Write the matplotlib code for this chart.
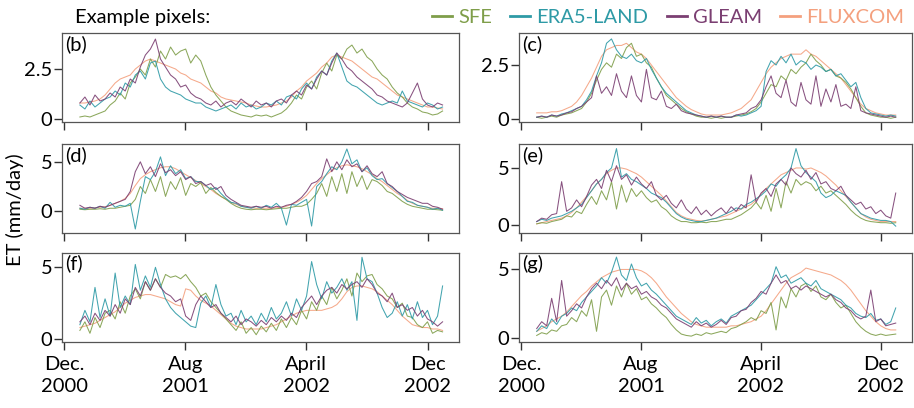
import matplotlib
matplotlib.use("Agg")
import matplotlib.pyplot as plt
import numpy as np
import pandas as pd

plt.rcParams['font.family'] = ['Lato', 'DejaVu Sans']

# 73 samples, ~10 days apart, Jan 2001 - Dec 2002
dates = pd.date_range('2001-01-01', '2002-12-31', periods=73)

names = ['SFE', 'ERA5-LAND', 'GLEAM', 'FLUXCOM']
colors = {'SFE': '#7f9e4a', 'ERA5-LAND': '#2e9aa6', 'GLEAM': '#7b3f72', 'FLUXCOM': '#f4a07e'}

# panel (b)
sfe_b = [0.1, 0.15, 0.1, 0.2, 0.3, 0.4, 0.7, 0.9, 1.3, 1.0, 1.8, 2.1,
         2.5, 2.2, 3.0, 2.6, 3.4, 3.0, 3.6, 3.2, 3.4, 3.5, 2.8, 3.2,
         2.9, 2.2, 1.6, 1.2, 0.9, 0.6, 0.4, 0.3, 0.2, 0.15, 0.1, 0.2,
         0.15, 0.2, 0.1, 0.2, 0.3, 0.5, 0.8, 1.2, 1.0, 1.6, 1.9, 1.5,
         2.3, 2.8, 2.4, 3.2, 3.0, 3.5, 3.7, 3.3, 3.5, 3.1, 2.9, 2.5,
         2.2, 2.0, 1.6, 1.3, 1.1, 0.8, 0.6, 0.5, 0.35, 0.3, 0.2, 0.25, 0.4]
era_b = [0.7, 0.5, 0.9, 0.6, 0.8, 1.0, 1.1, 1.4, 1.2, 1.8, 1.6, 2.2,
         2.4, 2.0, 2.8, 2.9, 2.0, 1.6, 1.4, 1.3, 1.2, 1.0, 0.9, 0.8,
         0.8, 0.6, 0.5, 0.4, 0.5, 0.6, 0.7, 0.5, 0.8, 0.6, 0.7, 0.5,
         0.6, 0.8, 0.7, 0.9, 0.7, 1.1, 1.2, 1.0, 1.5, 1.8, 1.5, 2.1,
         2.4, 2.2, 2.9, 3.3, 2.6, 1.9, 1.7, 1.6, 1.4, 1.2, 1.0, 0.8,
         0.7, 0.8, 0.9, 0.8, 1.4, 0.9, 0.8, 0.7, 0.6, 0.8, 0.7, 0.5, 0.6]
gleam_b = [0.8, 1.1, 0.7, 1.2, 0.9, 1.0, 1.3, 1.1, 1.6, 1.4, 2.0, 1.8,
           2.6, 3.2, 3.5, 4.0, 3.0, 2.6, 2.2, 2.0, 1.6, 1.7, 1.3, 1.1,
           1.0, 0.8, 0.7, 0.9, 0.6, 0.8, 0.9, 0.7, 1.0, 0.8, 0.6, 0.9,
           0.7, 0.8, 0.6, 0.9, 1.0, 0.8, 1.2, 1.4, 1.2, 1.7, 1.5, 2.0,
           2.4, 2.2, 2.8, 3.3, 3.0, 2.6, 2.4, 2.1, 1.9, 1.7, 1.5, 1.2,
           1.1, 0.9, 0.8, 0.7, 0.6, 0.8, 1.3, 1.8, 1.0, 0.7, 0.6, 0.8, 0.7]
flux_b = [0.8, 0.8, 0.85, 0.9, 1.0, 1.2, 1.5, 1.8, 2.0, 2.1, 2.2, 2.5,
          2.7, 2.9, 3.0, 2.9, 2.8, 2.7, 2.6, 2.5, 2.3, 2.2, 2.0, 1.9,
          1.8, 1.6, 1.4, 1.3, 1.1, 1.0, 0.95, 0.9, 0.85, 0.8, 0.7, 0.65,
          0.6, 0.6, 0.65, 0.7, 0.8, 0.9, 1.1, 1.4, 1.6, 1.9, 2.1, 2.3,
          2.6, 2.8, 3.1, 3.2, 3.1, 3.0, 2.9, 2.7, 2.5, 2.3, 2.1, 2.0,
          1.8, 1.6, 1.4, 1.2, 1.1, 1.0, 0.9, 0.8, 0.7, 0.6, 0.6, 0.55, 0.5]

# panel (c)
sfe_c = [0.1, 0.05, 0.1, 0.15, 0.1, 0.2, 0.25, 0.3, 0.4, 0.5, 0.8, 1.2,
         1.8, 2.3, 2.6, 2.4, 3.0, 2.8, 3.3, 3.5, 2.9, 3.0, 2.6, 2.4,
         1.9, 1.5, 1.1, 0.9, 0.7, 0.5, 0.35, 0.25, 0.15, 0.1, 0.1, 0.05,
         0.1, 0.05, 0.1, 0.1, 0.15, 0.2, 0.25, 0.35, 0.5, 0.8, 1.2, 1.6,
         1.5, 2.0, 1.8, 2.3, 2.1, 2.4, 2.6, 3.0, 2.7, 2.5, 2.2, 2.3,
         2.0, 1.9, 1.7, 1.4, 1.0, 0.6, 0.3, 0.2, 0.15, 0.1, 0.1, 0.05, 0.1]
era_c = [0.1, 0.15, 0.1, 0.2, 0.15, 0.25, 0.3, 0.4, 0.5, 0.6, 0.9, 1.3,
         2.0, 2.6, 3.5, 3.7, 3.2, 2.9, 2.8, 3.0, 2.7, 2.6, 2.8, 2.3,
         1.9, 1.5, 1.2, 1.0, 0.8, 0.6, 0.4, 0.3, 0.2, 0.15, 0.1, 0.15,
         0.1, 0.15, 0.1, 0.1, 0.2, 0.15, 0.2, 0.3, 0.4, 0.6, 2.2, 2.7,
         2.5, 2.9, 2.6, 3.0, 2.5, 2.7, 2.6, 2.3, 2.5, 2.4, 2.2, 2.3,
         2.0, 2.1, 1.8, 1.5, 1.7, 1.0, 0.5, 0.3, 0.25, 0.2, 0.15, 0.2, 0.15]
gleam_c = [0.1, 0.15, 0.1, 0.2, 0.15, 0.2, 0.3, 0.35, 0.5, 0.6, 0.8, 1.0,
           2.0, 1.2, 1.5, 1.1, 2.1, 1.3, 1.0, 2.0, 1.1, 0.8, 2.3, 1.0,
           0.9, 1.3, 0.6, 0.5, 0.7, 0.4, 0.3, 0.25, 0.2, 0.15, 0.1, 0.15,
           0.1, 0.15, 0.1, 0.1, 0.2, 0.25, 0.3, 0.5, 0.6, 0.9, 1.5, 2.0,
           1.2, 1.0, 1.8, 0.8, 0.6, 1.7, 0.9, 0.7, 2.0, 0.6, 1.4, 0.8,
           1.6, 0.6, 0.7, 0.5, 1.5, 0.4, 0.3, 0.25, 0.2, 0.15, 0.1, 0.15, 0.1]
flux_c = [0.3, 0.3, 0.3, 0.35, 0.35, 0.4, 0.5, 0.6, 0.8, 1.1, 1.5, 1.9,
          2.4, 2.9, 3.2, 3.3, 3.4, 3.4, 3.5, 3.3, 3.1, 3.0, 2.8, 2.5,
          2.2, 1.9, 1.6, 1.3, 1.0, 0.8, 0.6, 0.45, 0.35, 0.25, 0.2, 0.2,
          0.2, 0.2, 0.25, 0.3, 0.4, 0.5, 0.7, 0.9, 1.3, 1.7, 2.1, 2.4,
          2.6, 2.8, 2.9, 3.0, 3.0, 3.0, 3.2, 3.0, 2.9, 2.7, 2.5, 2.3,
          2.1, 1.9, 1.6, 1.3, 1.0, 0.7, 0.5, 0.4, 0.3, 0.25, 0.2, 0.2, 0.2]

# panel (d)
sfe_d = [0.2, 0.15, 0.2, 0.2, 0.25, 0.2, 0.3, 0.3, 0.4, 0.5, 0.6, 1.2,
         2.5, 1.8, 3.2, 2.0, 3.5, 1.5, 3.0, 2.2, 3.4, 1.6, 2.8, 2.5,
         2.9, 1.8, 2.4, 1.9, 1.5, 1.2, 0.8, 0.5, 0.3, 0.2, 0.15, 0.2,
         0.2, 0.15, 0.2, 0.25, 0.3, 0.3, 0.4, 0.5, 0.5, 0.7, 1.2, 1.8,
         2.8, 1.5, 3.5, 2.0, 3.8, 1.8, 4.0, 2.5, 3.6, 2.2, 3.2, 3.0,
         2.6, 2.0, 1.8, 1.4, 1.0, 0.7, 0.5, 0.4, 0.3, 0.2, 0.2, 0.15, 0.1]
era_d = [0.3, 0.2, 0.4, 0.3, 0.5, 0.3, 0.9, 0.4, 0.6, 0.5, 0.8, -1.8,
         1.0, 3.5, 3.2, 4.0, 5.5, 3.6, 4.6, 3.8, 4.2, 3.3, 3.5, 3.0,
         3.0, 2.6, 2.2, 2.4, 1.8, 1.3, 0.9, 0.8, 0.5, 0.4, 0.3, 0.5,
         0.3, 0.6, 0.4, 0.8, 0.3, -1.4, 0.7, 0.6, 0.9, 1.2, -1.5, 2.5,
         3.0, 3.8, 4.5, 4.2, 5.0, 6.3, 4.8, 5.2, 4.0, 4.4, 3.6, 3.2,
         3.3, 2.8, 2.4, 2.0, 1.5, 1.0, 0.9, 0.6, 0.5, 0.4, 0.2, 0.3, 0.1]
gleam_d = [0.6, 0.3, 0.4, 0.3, 0.5, 0.4, 0.6, 0.8, 1.0, 1.2, 2.0, 4.0,
           5.0, 3.8, 4.5, 3.5, 4.8, 3.9, 4.2, 3.6, 4.0, 3.2, 3.5, 2.8,
           3.0, 2.6, 2.8, 2.2, 2.5, 1.6, 1.2, 0.9, 0.6, 0.5, 0.4, 0.5,
           0.4, 0.5, 0.3, 0.5, 0.4, 0.6, 0.7, 1.0, 1.4, 2.0, 2.8, 3.0,
           3.5, 5.3, 4.0, 5.0, 4.2, 5.2, 4.5, 4.8, 4.0, 4.6, 3.8, 3.5,
           4.0, 2.8, 2.5, 2.0, 1.7, 1.4, 1.2, 1.0, 0.8, 0.8, 0.5, 0.4, 0.2]
flux_d = [0.3, 0.3, 0.3, 0.35, 0.4, 0.45, 0.6, 0.8, 1.0, 1.3, 1.8, 2.6,
          3.3, 3.7, 4.0, 4.2, 4.4, 4.5, 4.5, 4.3, 4.0, 3.7, 3.4, 3.1,
          2.8, 2.5, 2.2, 1.8, 1.5, 1.2, 0.9, 0.7, 0.5, 0.4, 0.35, 0.3,
          0.3, 0.3, 0.3, 0.35, 0.4, 0.5, 0.7, 0.9, 1.2, 1.6, 2.2, 2.8,
          3.3, 3.7, 4.1, 4.4, 4.6, 4.7, 4.6, 4.5, 4.3, 4.0, 3.7, 3.3,
          3.0, 2.6, 2.2, 1.8, 1.5, 1.1, 0.8, 0.6, 0.5, 0.4, 0.3, 0.3, 0.25]

# panel (e)
sfe_e = [0.1, 0.2, 0.15, 0.3, 0.4, 0.5, 0.8, 0.7, 1.2, 1.0, 1.8, 2.5,
         1.8, 3.0, 2.2, 3.8, 1.4, 3.5, 2.0, 3.2, 2.5, 3.0, 2.4, 2.0,
         2.2, 1.6, 1.3, 0.8, 0.5, 0.3, 0.3, 0.2, 0.2, 0.25, 0.2, 0.3,
         0.3, 0.4, 0.5, 0.5, 0.7, 0.9, 1.2, 1.5, 2.0, 1.4, 2.6, 1.2,
         3.2, 1.5, 3.8, 2.8, 4.0, 3.5, 3.8, 3.6, 3.0, 3.4, 2.8, 3.0,
         2.6, 2.2, 1.8, 1.3, 0.9, 0.6, 0.4, 0.3, 0.25, 0.2, 0.2, 0.15, 0.2]
era_e = [0.3, 0.5, 0.4, 0.6, 0.7, 0.8, 1.0, 1.2, 1.5, 1.8, 2.4, 3.0,
         3.6, 4.0, 4.6, 5.0, 6.7, 4.2, 4.5, 4.0, 3.8, 3.5, 3.2, 2.8,
         2.6, 2.4, 2.0, 1.5, 1.0, 0.7, 0.5, 0.4, 0.3, 0.3, 0.4, 0.5,
         0.6, 0.8, 1.0, 1.2, 1.5, 1.4, 1.8, 2.0, 2.3, 2.6, 3.0, 3.6,
         3.4, 4.0, 4.4, 5.0, 6.7, 5.2, 4.6, 4.2, 3.8, 2.8, 2.4, 2.6,
         3.0, 2.8, 2.6, 2.0, 1.5, 1.0, 0.8, 0.6, 0.5, 0.4, 0.4, 0.3, -0.1]
gleam_e = [0.3, 0.6, 0.5, 0.9, 1.0, 3.8, 1.2, 1.5, 2.2, 1.6, 2.5, 3.5,
           4.0, 3.2, 4.8, 3.8, 5.2, 4.0, 4.4, 3.5, 4.2, 3.6, 3.2, 3.8,
           2.6, 2.2, 2.6, 1.9, 1.5, 2.2, 1.4, 1.0, 1.6, 0.9, 1.3, 0.8,
           1.2, 1.5, 1.0, 1.6, 1.2, 1.8, 1.5, 4.4, 2.0, 2.8, 3.2, 2.5,
           3.6, 4.0, 3.5, 5.0, 4.5, 4.2, 4.8, 4.0, 4.6, 3.6, 3.8, 3.2,
           3.0, 3.4, 2.6, 2.2, 1.8, 2.0, 1.4, 1.6, 1.0, 1.3, 0.8, 0.6, 2.8]
flux_e = [0.1, 0.2, 0.3, 0.4, 0.5, 0.6, 0.8, 1.1, 1.5, 2.0, 2.5, 3.0,
          3.6, 4.0, 4.5, 4.8, 5.0, 5.0, 4.9, 4.7, 4.5, 4.2, 3.8, 3.4,
          3.0, 2.6, 2.1, 1.6, 1.1, 0.8, 0.6, 0.5, 0.4, 0.35, 0.4, 0.5,
          0.6, 0.7, 0.8, 1.0, 1.2, 1.4, 1.6, 1.8, 2.2, 2.7, 3.2, 3.6,
          4.0, 4.4, 4.6, 4.8, 5.0, 5.0, 4.9, 5.0, 4.8, 4.6, 4.3, 3.9,
          3.5, 3.0, 2.5, 2.0, 1.5, 1.0, 0.7, 0.5, 0.4, 0.3, 0.3, 0.3, 0.3]

# panel (f)
sfe_f = [0.6, 1.2, 0.4, 1.5, 0.8, 1.8, 2.0, 1.4, 2.6, 1.8, 3.0, 3.5,
         2.8, 4.0, 3.4, 4.2, 3.6, 4.5, 4.3, 4.4, 4.2, 4.5, 4.0, 3.6,
         3.0, 3.2, 2.6, 2.2, 1.8, 1.4, 1.0, 0.6, 1.2, 0.4, 0.8, 0.3,
         0.9, 0.5, 1.1, 0.6, 1.4, 0.8, 1.5, 1.0, 2.0, 1.4, 2.6, 2.0,
         3.0, 2.4, 3.6, 2.8, 3.4, 4.2, 3.0, 4.6, 4.0, 4.4, 4.5, 3.8,
         3.5, 3.0, 2.8, 2.2, 2.5, 1.6, 1.5, 1.0, 0.8, 1.2, 0.4, 0.6, 0.5]
era_f = [1.0, 2.0, 1.2, 3.6, 1.5, 2.8, 1.6, 4.6, 2.2, 3.0, 2.4, 5.2,
         3.4, 4.4, 3.6, 5.0, 3.8, 2.8, 2.2, 1.8, 1.5, 1.2, 0.9, 0.8,
         2.5, 3.0, 2.2, 3.8, 2.4, 1.6, 1.8, 1.0, 2.0, 1.2, 1.6, 1.0,
         1.8, 1.2, 2.2, 1.4, 1.8, 2.6, 1.6, 2.8, 2.0, 3.0, 5.4, 3.8,
         2.8, 4.0, 3.2, 3.6, 4.2, 3.4, 4.0, 1.3, 5.7, 4.2, 4.0, 3.2,
         2.2, 1.5, 1.8, 2.6, 1.6, 2.4, 1.4, 2.6, 1.5, 2.0, 1.0, 1.6, 3.7]
gleam_f = [1.2, 1.6, 1.0, 1.8, 1.3, 2.0, 1.6, 2.4, 1.8, 2.8, 2.4, 3.6,
           3.0, 4.0, 3.4, 4.2, 3.6, 3.2, 3.0, 2.6, 2.8, 1.6, 1.3, 2.4,
           3.0, 2.6, 2.2, 2.4, 1.8, 1.5, 1.2, 1.6, 1.0, 1.4, 1.2, 0.9,
           1.3, 1.0, 1.5, 1.2, 1.6, 1.3, 1.8, 1.5, 2.2, 2.6, 3.0, 2.4,
           3.0, 3.4, 3.6, 3.2, 3.8, 3.5, 3.8, 4.0, 3.6, 4.2, 3.8, 3.2,
           3.0, 2.6, 3.2, 2.2, 2.4, 2.0, 2.2, 1.6, 2.0, 1.4, 1.2, 0.9, 1.2]
flux_f = [0.8, 0.9, 1.0, 1.1, 1.3, 1.5, 1.7, 1.9, 2.2, 2.5, 2.7, 2.9,
          3.0, 3.1, 3.1, 3.0, 2.9, 2.8, 2.6, 2.4, 2.3, 3.5, 3.4, 3.0,
          2.7, 2.5, 2.3, 2.0, 1.7, 1.4, 1.1, 0.9, 0.8, 0.7, 0.7, 0.7,
          0.7, 0.8, 0.9, 1.0, 1.2, 1.4, 1.6, 1.8, 1.9, 2.0, 2.0, 2.0,
          2.0, 2.1, 2.2, 2.4, 2.8, 3.3, 3.6, 3.7, 3.7, 3.6, 3.5, 3.3,
          3.0, 2.7, 2.4, 2.0, 1.6, 1.3, 1.0, 0.9, 0.8, 0.8, 0.7, 0.7, 0.6]

# panel (g)
sfe_g = [0.2, 0.4, 0.3, 0.6, 0.5, 0.9, 1.0, 1.5, 1.2, 2.0, 1.6, 2.8,
         0.5, 3.0, 3.5, 2.4, 3.8, 3.0, 4.0, 3.2, 3.6, 2.8, 3.0, 2.5,
         2.2, 1.8, 1.5, 1.0, 0.6, 0.3, 0.2, 0.15, 0.3, 0.2, 0.4, 0.3,
         0.4, 0.5, 0.4, 0.7, 0.8, 1.0, 1.2, 1.5, 1.3, 2.0, 1.8, 2.6,
         0.6, 3.0, 2.2, 3.6, 3.0, 3.8, 4.0, 3.4, 3.8, 3.0, 2.8, 3.2,
         2.6, 2.2, 2.4, 1.8, 1.2, 0.8, 0.5, 0.3, 0.2, 0.3, 0.2, 0.25, 0.3]
era_g = [0.5, 0.9, 0.7, 1.4, 1.0, 1.6, 1.8, 2.2, 2.0, 2.6, 3.0, 3.4,
         3.8, 4.4, 4.0, 4.8, 5.9, 4.6, 4.2, 5.4, 4.4, 3.8, 4.0, 3.5,
         3.2, 2.8, 2.4, 2.0, 1.6, 1.4, 1.2, 1.0, 1.5, 1.1, 1.3, 0.9,
         1.2, 1.4, 1.1, 1.6, 1.8, 2.0, 2.2, 2.4, 2.8, 3.2, 3.6, 4.0,
         5.2, 4.4, 4.6, 4.0, 4.2, 4.4, 4.0, 3.8, 4.2, 3.6, 3.4, 3.2,
         3.0, 2.8, 2.4, 2.2, 1.8, 1.6, 1.5, 1.8, 1.3, 1.4, 1.0, 1.2, 2.2]
gleam_g = [0.7, 1.2, 0.9, 2.9, 1.2, 4.2, 1.6, 2.0, 2.5, 2.2, 3.0, 3.6,
           4.0, 3.6, 4.2, 3.8, 4.4, 3.5, 4.0, 3.6, 3.8, 3.2, 3.4, 3.0,
           2.8, 2.4, 2.2, 1.8, 1.4, 1.2, 1.0, 0.8, 1.2, 0.9, 1.1, 0.8,
           1.0, 1.3, 1.0, 1.5, 1.6, 2.0, 2.1, 2.6, 2.9, 3.4, 3.2, 4.0,
           4.6, 4.0, 4.2, 3.6, 3.8, 3.5, 3.8, 3.6, 3.4, 3.2, 3.0, 3.2,
           2.8, 2.6, 2.2, 2.0, 1.6, 1.4, 1.6, 3.5, 1.2, 1.4, 0.9, 1.0, 1.1]
flux_g = [0.5, 0.7, 0.9, 1.2, 1.4, 1.6, 1.9, 2.3, 2.7, 3.1, 3.4, 3.8,
          4.1, 4.4, 4.6, 4.8, 4.9, 5.0, 5.0, 5.0, 5.0, 4.9, 4.7, 4.4,
          4.0, 3.5, 3.0, 2.6, 2.2, 1.8, 1.5, 1.2, 1.0, 0.9, 0.8, 0.8,
          0.8, 0.8, 0.8, 0.9, 0.9, 1.0, 1.1, 1.2, 1.4, 1.6, 2.0, 2.5,
          3.0, 3.5, 4.0, 4.4, 4.6, 4.8, 5.1, 5.0, 4.9, 4.8, 4.7, 4.6,
          4.4, 4.2, 3.9, 3.5, 3.0, 2.5, 2.0, 1.6, 1.2, 0.9, 0.7, 0.6, 0.6]

panels = {
    '(b)': [sfe_b, era_b, gleam_b, flux_b],
    '(c)': [sfe_c, era_c, gleam_c, flux_c],
    '(d)': [sfe_d, era_d, gleam_d, flux_d],
    '(e)': [sfe_e, era_e, gleam_e, flux_e],
    '(f)': [sfe_f, era_f, gleam_f, flux_f],
    '(g)': [sfe_g, era_g, gleam_g, flux_g],
}
ylims = {'(b)': (-0.15, 4.3), '(c)': (-0.12, 3.97), '(d)': (-2.2, 6.8),
         '(e)': (-0.7, 7.1), '(f)': (-0.2, 6.0), '(g)': (-0.27, 6.2)}
yticks = {'(b)': [0, 2.5], '(c)': [0, 2.5], '(d)': [0, 5],
          '(e)': [0, 5], '(f)': [0, 5], '(g)': [0, 5]}

tick_dates = pd.to_datetime(['2000-12-01', '2001-08-01', '2002-04-01', '2002-12-01'])
tick_labels = ['Dec.\n2000', 'Aug\n2001', 'April\n2002', 'Dec\n2002']

fs = 14.5
fig = plt.figure(figsize=(9.14, 4.08), dpi=100)
lefts = [0.0678, 0.5678]
widths = [0.4344, 0.430]
bottoms = [0.701, 0.429, 0.162]
h = 0.218

keys = list(panels.keys())
for k, key in enumerate(keys):
    r, c = divmod(k, 2)
    ax = fig.add_axes([lefts[c], bottoms[r], widths[c], h])
    series = panels[key]
    # FLUXCOM first so the noisy series sit on top
    for j in [3, 0, 1, 2]:
        ax.plot(dates, series[j], color=colors[names[j]], lw=0.75, alpha=0.9)
    ax.set_ylim(*ylims[key])
    ax.set_yticks(yticks[key])
    ax.set_yticklabels(['0', '2.5'] if yticks[key][1] == 2.5 else ['0', '5'])
    ax.set_xlim(pd.Timestamp('2000-11-26'), pd.Timestamp('2003-02-02'))
    ax.set_xticks(tick_dates)
    if r == 2:
        ax.set_xticklabels(tick_labels, linespacing=1.4)
    else:
        ax.set_xticklabels([])
    for s in ax.spines.values():
        s.set_color('#555555')
        s.set_linewidth(0.9)
    ax.tick_params(axis='both', length=6, width=1, color='#333333',
                   labelsize=fs, pad=1)
    ax.tick_params(axis='x', pad=4)
    ax.text(0.008, 0.98, key, transform=ax.transAxes, ha='left', va='top',
            fontsize=fs)

fig.text(15 / 914, 0.485, 'ET (mm/day)', rotation=90, ha='center', va='center',
         fontsize=fs)
fig.text(75 / 914, 0.958, 'Example pixels:', ha='left', va='center', fontsize=fs)

handles = [plt.Line2D([], [], color=colors[n], lw=2) for n in names]
fig.legend(handles, names, loc='center right', bbox_to_anchor=(0.998, 0.958),
           ncol=4, frameon=False, fontsize=fs, handlelength=1.0,
           handletextpad=0.3, columnspacing=0.9, labelcolor='linecolor',
           borderaxespad=0.0)

fig.savefig('out.png', dpi=100)
